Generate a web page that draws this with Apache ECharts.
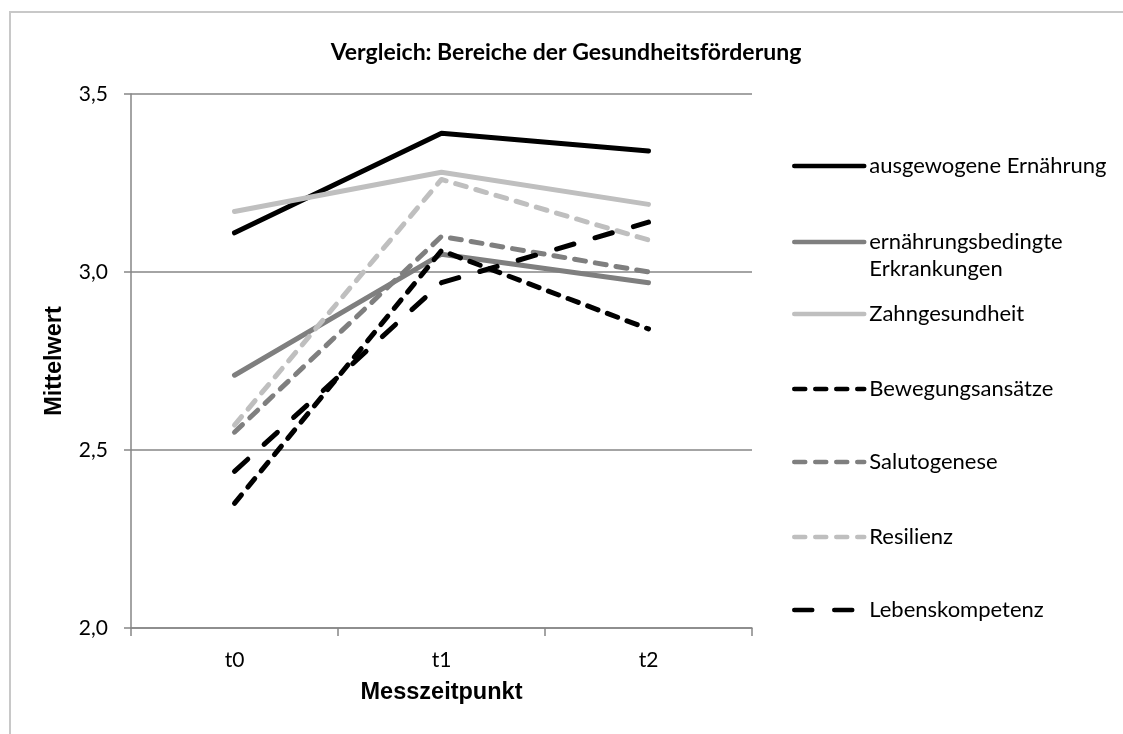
<!DOCTYPE html>
<html>
<head>
<meta charset="utf-8">
<script src="https://cdn.jsdelivr.net/npm/echarts@6/dist/echarts.min.js"></script>
<style>
html,body{margin:0;padding:0;background:#fff;}
#main{width:1123px;height:734px;}
</style>
</head>
<body>
<div id="main"></div>
<script>
// ---- data ----
var categories = ['t0', 't1', 't2'];
var seriesNames = ['ausgewogene Ernährung', 'ernährungsbedingte Erkrankungen', 'Zahngesundheit', 'Bewegungsansätze', 'Salutogenese', 'Resilienz', 'Lebenskompetenz'];
var ausgewogeneErnaehrung = [3.11, 3.39, 3.34];
var ernaehrungsbedingteErkrankungen = [2.71, 3.05, 2.97];
var zahngesundheit = [3.17, 3.28, 3.19];
var bewegungsansaetze = [2.35, 3.06, 2.84];
var salutogenese = [2.55, 3.10, 3.00];
var resilienz = [2.57, 3.26, 3.09];
var lebenskompetenz = [2.44, 2.97, 3.14];
var yTicks = [2.0, 2.5, 3.0, 3.5];

var values = [ausgewogeneErnaehrung, ernaehrungsbedingteErkrankungen, zahngesundheit, bewegungsansaetze, salutogenese, resilienz, lebenskompetenz];

// ---- styles / layout ----
var colors = ['#000000', '#7f7f7f', '#bfbfbf', '#000000', '#7f7f7f', '#bfbfbf', '#000000'];
var LW = 5;
var LEG_LW = 4.5;
var shortDash = [11, 10];
var longDash = [18, 22];
var dashes = ['solid', 'solid', 'solid', shortDash, shortDash, shortDash, longDash];
var legendCenters = [166, 242, 314, 389, 462, 537, 610];
var LH = 27;
var calibriLike = 'Lato';

var chart = echarts.init(document.getElementById('main'), null, {renderer: 'canvas'});

var series = seriesNames.map(function (n, i) {
  var ls = {color: colors[i], width: LW, type: dashes[i], cap: 'round', join: 'round'};
  return {
    name: n,
    type: 'line',
    data: values[i],
    symbol: 'none',
    showSymbol: false,
    smooth: false,
    z: 2 + i,
    itemStyle: {color: colors[i]},
    lineStyle: ls,
    emphasis: {disabled: true, lineStyle: ls},
    animation: false
  };
});

var legends = seriesNames.map(function (n, i) {
  var twoLine = n.indexOf(' Erkrankungen') >= 0;
  return {
    data: [n],
    orient: 'vertical',
    left: 792,
    top: legendCenters[i] - (twoLine ? LH * 1.5 : LH / 2),
    padding: 0,
    itemWidth: 70,
    itemHeight: 14,
    selectedMode: false,
    itemStyle: {opacity: 0, borderWidth: 0},
    lineStyle: {width: LEG_LW, color: colors[i], type: dashes[i], cap: 'round', opacity: 1},
    formatter: function (name) {
      return name.indexOf(' Erkrankungen') >= 0 ? '\n' + name.replace(' ', '\n') : name;
    },
    textStyle: {fontFamily: calibriLike, fontSize: 22, color: '#000', lineHeight: LH}
  };
});

var option = {
  backgroundColor: '#fff',
  animation: false,
  title: {
    text: 'Vergleich: Bereiche der Gesundheitsförderung',
    left: 561,
    textAlign: 'center',
    top: 36,
    textStyle: {fontFamily: calibriLike, fontWeight: 'bold', fontSize: 23, color: '#000'}
  },
  legend: legends,
  grid: {left: 131, right: 371, top: 94, bottom: 106, containLabel: false},
  xAxis: {
    type: 'category',
    data: categories,
    boundaryGap: true,
    name: 'Messzeitpunkt',
    nameLocation: 'middle',
    nameGap: 53,
    nameTextStyle: {fontFamily: 'Liberation Sans', fontWeight: 'bold', fontSize: 23.5, color: '#000'},
    axisLine: {lineStyle: {color: '#868686', width: 1.5}},
    axisTick: {show: true, alignWithLabel: false, interval: 0, length: 8, lineStyle: {color: '#868686', width: 1.5}},
    axisLabel: {margin: 22, fontFamily: calibriLike, fontSize: 21, color: '#000'},
    splitLine: {show: false}
  },
  yAxis: {
    type: 'value',
    min: 2.0,
    max: 3.5,
    interval: 0.5,
    name: 'Mittelwert',
    nameLocation: 'middle',
    nameGap: 64,
    nameTextStyle: {fontFamily: 'Liberation Sans', fontWeight: 'bold', fontSize: 23.5, color: '#000'},
    axisLine: {show: true, lineStyle: {color: '#868686', width: 1.5}},
    axisTick: {show: true, length: 7, lineStyle: {color: '#868686', width: 1.5}},
    axisLabel: {
      margin: 23,
      fontFamily: calibriLike,
      fontSize: 21,
      color: '#000',
      formatter: function (v) {
        var t = yTicks.filter(function (k) { return Math.abs(k - v) < 1e-9; });
        return (t.length ? t[0] : v).toFixed(1).replace('.', ',');
      }
    },
    splitLine: {show: true, lineStyle: {color: '#868686', width: 1.5}}
  },
  graphic: [{
    type: 'rect',
    silent: true,
    shape: {x: 10, y: 12, width: 1300, height: 900},
    style: {fill: 'none', stroke: '#c8c8c8', lineWidth: 2},
    z: -10
  }],
  series: series
};

chart.setOption(option);
</script>
</body>
</html>
